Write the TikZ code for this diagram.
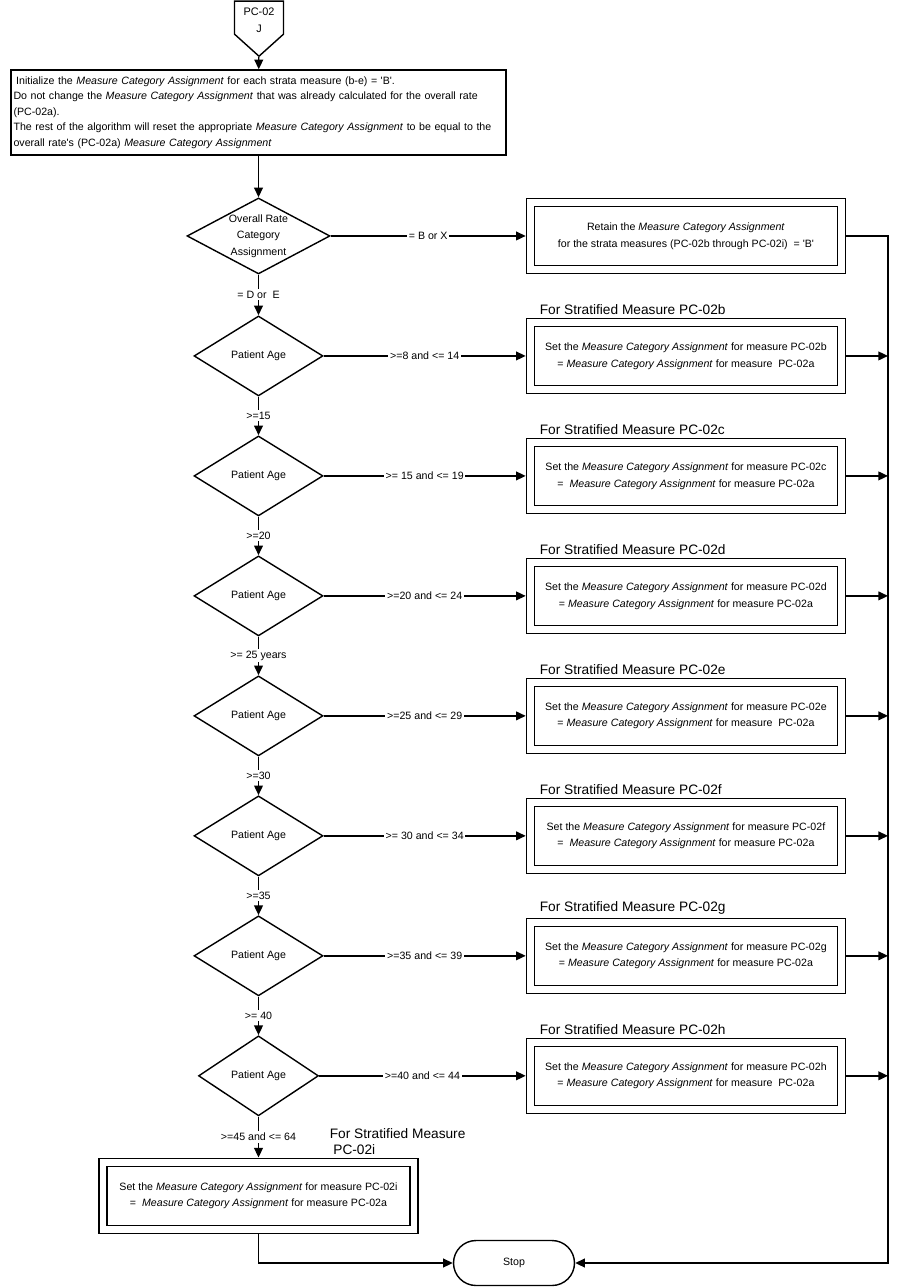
\documentclass[tikz,border=0pt]{standalone}
\usepackage{fontspec}
\setmainfont{Liberation Sans}
\usetikzlibrary{positioning,calc,shapes.geometric,shapes.symbols,arrows.meta}
\newcommand{\mca}{\textit{Measure Category Assignment}}
\tikzstyle{dbox} = [draw, double, double distance=3.75pt, fill=white, rectangle, minimum width=6.22cm, minimum height=1.34cm, outer sep=2.7pt, align=center, font=\fontsize{6.05}{9.5}\selectfont]
\tikzstyle{initbox} = [draw, fill=white, rectangle, minimum width=9.86cm, minimum height=1.7cm, text width=9.8cm, inner sep=1.5pt, align=left]
\tikzstyle{decision} = [draw, diamond, fill=white, minimum width=2.58cm, minimum height=1.6cm, inner sep=0pt, align=center]
\tikzstyle{terminal} = [draw, rectangle, rounded corners=0.45cm, minimum width=2.42cm, minimum height=0.9cm]
\tikzstyle{offpage} = [draw, signal, signal to=south, signal pointer angle=96, minimum width=0.98cm, minimum height=0.86cm, inner sep=1pt, align=center, font=\fontsize{6.2}{9.7}\selectfont]
\tikzstyle{header} = [inner sep=0.5pt, align=left, font=\fontsize{7.8}{9.5}\selectfont]
\tikzstyle{edgelabel} = [fill=white, inner sep=1pt]

\begin{document}
\begin{tikzpicture}[x=0.02cm, y=-0.02cm, node distance=2.4cm, line width=0.8pt,
    >={Triangle[length=5.5pt,width=5pt]}, font=\fontsize{6.05}{8.8}\selectfont]
    \useasboundingbox (0,0) rectangle (901,1287);

    \node [offpage, anchor=north] (pc) at (259,0.5) {\rule{0pt}{7pt}PC-02\\J};
    \node [initbox] (init) at (258.5,112.5) {\hspace*{1.5pt}Initialize the \mca{} for each strata measure (b-e) = \textquotesingle B\textquotesingle.\\
        Do not change the \mca{} that was already calculated for the overall rate\\
        (PC-02a).\\
        The rest of the algorithm will reset the appropriate \mca{} to be equal to the\\
        overall rate\textquotesingle s (PC-02a) \mca};

    \node [decision, minimum width=2.86cm, minimum height=1.52cm, aspect=1.88, below of=init, node distance=2.47cm,
        font=\fontsize{6.05}{9.5}\selectfont] (rate) {Overall Rate\\Category\\Assignment};
    \node [dbox, right of=rate, node distance=8.55cm] (retain) {Retain the \mca\\for the strata measures (PC-02b through PC-02i)\ \ = \textquotesingle B\textquotesingle};

    \node [decision, below of=rate] (ageb) {Patient Age};
    \node [dbox, right of=ageb, node distance=8.55cm] (setb) {Set the \mca{} for measure PC-02b\\= \mca{} for measure\ \ PC-02a};
    \node [header, above right=1pt and 0.25cm of setb.north west] (hdrb) {For Stratified Measure PC-02b};

    \node [decision, below of=ageb] (agec) {Patient Age};
    \node [dbox, right of=agec, node distance=8.55cm] (setc) {Set the \mca{} for measure PC-02c\\=\ \ \mca{} for measure PC-02a};
    \node [header, above right=1pt and 0.25cm of setc.north west] (hdrc) {For Stratified Measure PC-02c};

    \node [decision, below of=agec] (aged) {Patient Age};
    \node [dbox, right of=aged, node distance=8.55cm] (setd) {Set the \mca{} for measure PC-02d\\= \mca{} for measure PC-02a};
    \node [header, above right=1pt and 0.25cm of setd.north west] (hdrd) {For Stratified Measure PC-02d};

    \node [decision, below of=aged] (agee) {Patient Age};
    \node [dbox, right of=agee, node distance=8.55cm] (sete) {Set the \mca{} for measure PC-02e\\= \mca{} for measure\ \ PC-02a};
    \node [header, above right=1pt and 0.25cm of sete.north west] (hdre) {For Stratified Measure PC-02e};

    \node [decision, below of=agee] (agef) {Patient Age};
    \node [dbox, right of=agef, node distance=8.55cm] (setf) {Set the \mca{} for measure PC-02f\\=\ \ \mca{} for measure PC-02a};
    \node [header, above right=1pt and 0.25cm of setf.north west] (hdrf) {For Stratified Measure PC-02f};

    \node [decision, below of=agef] (ageg) {Patient Age};
    \node [dbox, right of=ageg, node distance=8.55cm] (setg) {Set the \mca{} for measure PC-02g\\= \mca{} for measure PC-02a};
    \node [header, above right=1pt and 0.25cm of setg.north west] (hdrg) {For Stratified Measure PC-02g};

    \node [decision, minimum width=2.4cm, below of=ageg] (ageh) {Patient Age};
    \node [dbox, right of=ageh, node distance=8.55cm] (seth) {Set the \mca{} for measure PC-02h\\= \mca{} for measure\ \ PC-02a};
    \node [header, above right=1pt and 0.25cm of seth.north west] (hdrh) {For Stratified Measure PC-02h};

    \node [dbox, below of=ageh] (seti) {Set the \mca{} for measure PC-02i\\=\ \ \mca{} for measure PC-02a};
    \node [header, anchor=south west] (hdri) at ($(seti.north west)+(230,-1)$) {For Stratified Measure\\\hspace*{2pt}PC-02i};

    \node [terminal] (stop) at (514,1263) {Stop};
    \coordinate (rail) at (888,1263);

    \draw [->] (pc) -- (init);
    \draw [->] (init) -- (rate);
    \draw [->] (rate) -- node [edgelabel] {= B or X} (retain);
    \draw [->] (rate) -- node [edgelabel] {= D or\ \ E} (ageb);
    \draw [->] (ageb) -- node [edgelabel] {>=8 and <= 14} (setb);
    \draw [->] (ageb) -- node [edgelabel] {>=15} (agec);
    \draw [->] (agec) -- node [edgelabel] {>= 15 and <= 19} (setc);
    \draw [->] (agec) -- node [edgelabel] {>=20} (aged);
    \draw [->] (aged) -- node [edgelabel] {>=20 and <= 24} (setd);
    \draw [->] (aged) -- node [edgelabel] {>= 25 years} (agee);
    \draw [->] (agee) -- node [edgelabel] {>=25 and <= 29} (sete);
    \draw [->] (agee) -- node [edgelabel] {>=30} (agef);
    \draw [->] (agef) -- node [edgelabel] {>= 30 and <= 34} (setf);
    \draw [->] (agef) -- node [edgelabel] {>=35} (ageg);
    \draw [->] (ageg) -- node [edgelabel] {>=35 and <= 39} (setg);
    \draw [->] (ageg) -- node [edgelabel] {>= 40} (ageh);
    \draw [->] (ageh) -- node [edgelabel] {>=40 and <= 44} (seth);
    \draw [->] (ageh) -- node [edgelabel] {>=45 and <= 64} (seti);

    \draw [->] (retain) -| (rail) -- (stop);
    \draw [->] (setb) -- (setb -| rail);
    \draw [->] (setc) -- (setc -| rail);
    \draw [->] (setd) -- (setd -| rail);
    \draw [->] (sete) -- (sete -| rail);
    \draw [->] (setf) -- (setf -| rail);
    \draw [->] (setg) -- (setg -| rail);
    \draw [->] (seth) -- (seth -| rail);
    \draw [->] (seti) |- (stop);
\end{tikzpicture}
\end{document}
